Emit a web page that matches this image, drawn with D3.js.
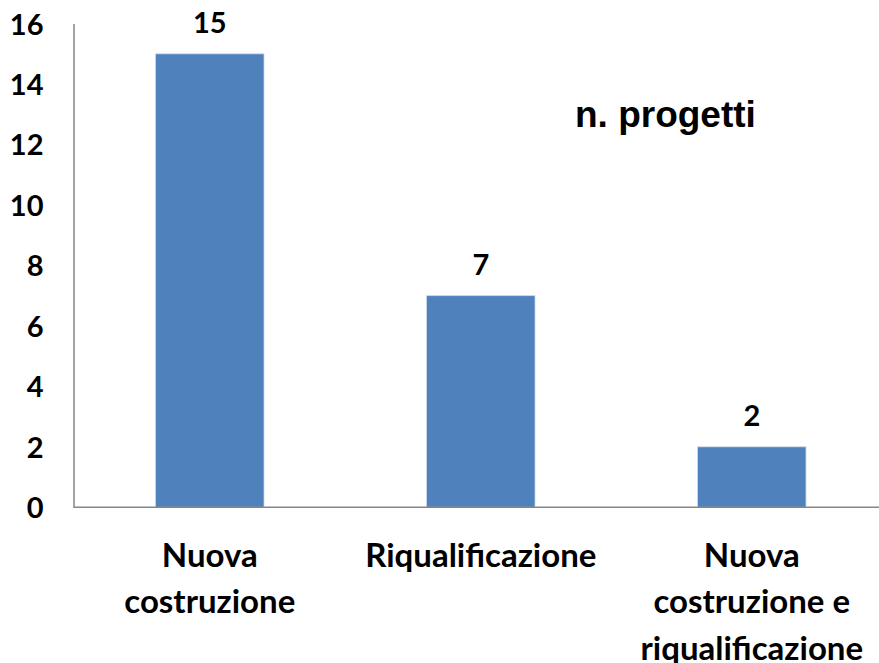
<!DOCTYPE html>
<html><head><meta charset="utf-8">
<script src="https://cdn.jsdelivr.net/npm/d3@7"></script>
<style>body{margin:0;background:#fff}svg{display:block}</style>
</head><body>
<script>
const categories = [["Nuova","costruzione"],["Riqualificazione"],["Nuova","costruzione e","riqualificazione"]];
const values = [15, 7, 2];
const yTicks = [0,2,4,6,8,10,12,14,16];
const title = "n. progetti";

const W = 879, H = 663;
const svg = d3.select("body").append("svg").attr("width", W).attr("height", H);

const x = d3.scaleBand().domain(d3.range(values.length)).range([74.3, 887.3]).paddingInner(0.6).paddingOuter(0.3);
const y = d3.scaleLinear().domain([0,16]).range([507.3, 23.6]);

const font = "Lato, 'Open Sans', sans-serif";

// y axis
const yAxis = d3.axisLeft(y).tickValues(yTicks).tickSize(0).tickPadding(30);
const gy = svg.append("g").attr("transform", "translate(73.5,0)").call(yAxis);
gy.select(".domain").attr("stroke", "#868686").attr("stroke-width", 1.5);
gy.selectAll("text").attr("font-family", font).attr("font-weight", 700).attr("font-size", 29).attr("fill", "#000").attr("dy", "0.36em");

// bars
svg.selectAll("rect.bar").data(values).join("rect").attr("class","bar")
  .attr("x", (d,i)=>x(i)).attr("width", x.bandwidth())
  .attr("y", d=>y(d)).attr("height", d=>y(0)-y(d))
  .attr("fill", "#4F81BD").attr("stroke", "#C9D8EC").attr("stroke-width", 0.8);

// x axis baseline
svg.append("line").attr("x1", 73.5).attr("x2", W).attr("y1", y(0)).attr("y2", y(0))
  .attr("stroke", "#868686").attr("stroke-width", 1.5);

// value labels
svg.selectAll("text.val").data(values).join("text").attr("class","val")
  .attr("x", (d,i)=>x(i)+x.bandwidth()/2).attr("y", d=>y(d)-20.5)
  .attr("text-anchor","middle").attr("font-family", font).attr("font-weight",700).attr("font-size",29)
  .text(d=>d);

// category labels
categories.forEach((lines,i)=>{
  const t = svg.append("text").attr("text-anchor","middle").attr("font-family", font).attr("font-weight",700).attr("font-size",33);
  lines.forEach((ln,j)=>{
    t.append("tspan").attr("x", x(i)+x.bandwidth()/2).attr("y", 566.5 + j*46.5).text(ln);
  });
});

// title
svg.append("text").attr("x", 575).attr("y", 127).attr("font-family","'Liberation Sans', Arial, sans-serif")
  .attr("font-weight",700).attr("font-size",37).text(title);
</script>
</body></html>
